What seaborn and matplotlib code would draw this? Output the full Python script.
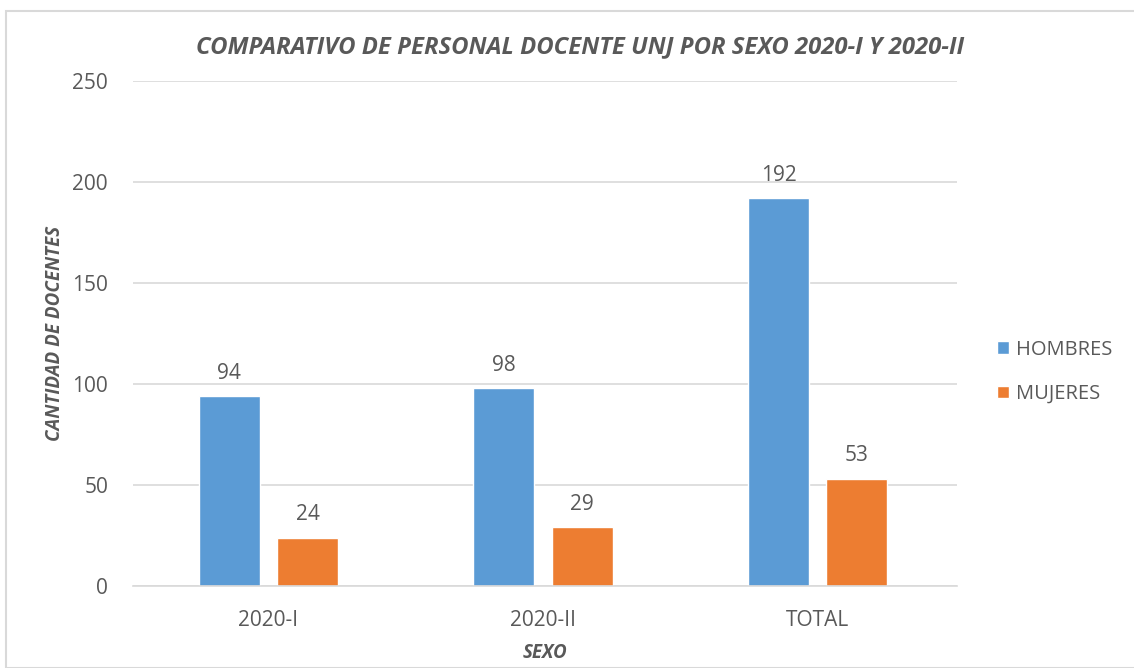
import numpy as np
import pandas as pd
import matplotlib
matplotlib.use("Agg")
import matplotlib.pyplot as plt
import seaborn as sns
from matplotlib.patches import Rectangle

# data
periodos = ["2020-I", "2020-II", "TOTAL"]
hombres = [94, 98, 192]
mujeres = [24, 29, 53]
series = ["HOMBRES", "MUJERES"]
colores = ["#5B9BD5", "#ED7D31"]
y_ticks = [0, 50, 100, 150, 200, 250]

TXT = "#595959"

sns.set_theme(style="white")
plt.rcParams["font.family"] = ["Open Sans", "DejaVu Sans"]

df = pd.DataFrame({
    "periodo": periodos * 2,
    "sexo": [series[0]] * 3 + [series[1]] * 3,
    "valor": hombres + mujeres,
})

fig = plt.figure(figsize=(11.34, 6.68), dpi=100)
ax = fig.add_axes([133 / 1134, 1 - 586 / 668, (957 - 133) / 1134, (586 - 81) / 668])

sns.barplot(data=df, x="periodo", y="valor", hue="sexo", order=periodos,
            hue_order=series, palette=colores, width=0.57, gap=0.22,
            saturation=1, errorbar=None, ax=ax)

for cont in ax.containers:
    ax.bar_label(cont, padding=9, fontsize=15, color=TXT)

ax.set_ylim(0, 250)
ax.set_yticks(y_ticks)
ax.set_xlim(-0.493, 2.507)
ax.yaxis.grid(True, color="#D9D9D9", lw=1.2)
ax.set_axisbelow(True)
for s in ["left", "right", "top"]:
    ax.spines[s].set_visible(False)
ax.spines["bottom"].set_color("#D9D9D9")
ax.spines["bottom"].set_linewidth(1.2)
ax.tick_params(axis="both", length=0, labelsize=15, labelcolor=TXT)
ax.tick_params(axis="y", pad=18)
ax.tick_params(axis="x", pad=17)

ax.set_xlabel("SEXO", fontsize=13.5, fontweight="bold", fontstyle="italic",
              color=TXT)
ax.set_ylabel("CANTIDAD DE DOCENTES", fontsize=13.5, fontweight="bold",
              fontstyle="italic", color=TXT)
ax.yaxis.set_label_coords(-0.083, 0.5)
ax.xaxis.set_label_coords(0.5, -0.112)

fig.text(580 / 1134, 1 - 47 / 668,
         "COMPARATIVO DE PERSONAL DOCENTE UNJ POR SEXO 2020-I Y 2020-II",
         ha="center", va="center", fontsize=17.2, fontweight="bold",
         fontstyle="italic", color=TXT)

leg = ax.legend(loc="center left", bbox_to_anchor=(979 / 1134, 1 - 372 / 668),
                bbox_transform=fig.transFigure, frameon=False, fontsize=14.5,
                handlelength=0.6, handleheight=0.6, handletextpad=0.35,
                labelspacing=1.2, title=None)
for t in leg.get_texts():
    t.set_color(TXT)

# light border around the chart area
fig.patches.append(Rectangle((6 / 1134, 0), 1.2, 1 - 11 / 668,
                             transform=fig.transFigure, fill=False,
                             edgecolor="#D9D9D9", lw=1.5))

fig.savefig("out.png", dpi=100)
